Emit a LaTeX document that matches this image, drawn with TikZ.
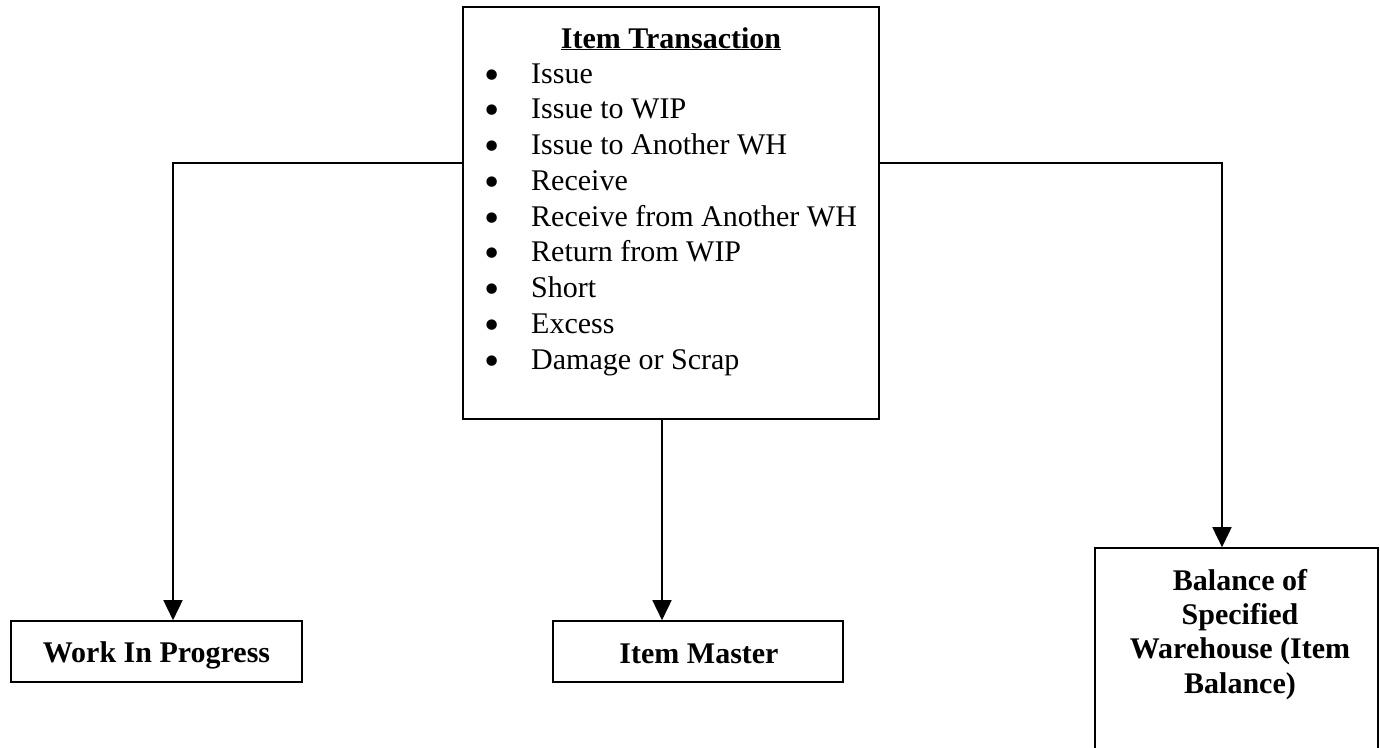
\documentclass[tikz,border=0pt]{standalone}
\usepackage{fontspec}
\setmainfont{Liberation Serif}
\usetikzlibrary{arrows.meta}
\begin{document}
\begin{tikzpicture}[x=1pt,y=-1pt,
  box/.style={draw, line width=1.6pt, inner sep=0pt},
  lbl/.style={font=\fontsize{30}{34.3}\selectfont\bfseries, inner sep=0pt},
  listtext/.style={font=\fontsize{30}{35.75}\selectfont, inner sep=0pt, align=left},
  arr/.style={line width=1.6pt, -{Triangle[length=20pt,width=19pt]}}]
\useasboundingbox (0,0) rectangle (1380,747);

% boxes
\node[box, minimum width=416pt, minimum height=412pt] (trans) at (671,213) {};
\node[box, minimum width=291pt, minimum height=61pt] (wip) at (156.5,651.5) {};
\node[box, minimum width=290pt, minimum height=61pt] (im) at (698,651.5) {};
\node[box, minimum width=283pt, minimum height=222pt] (bal) at (1236.5,659) {};

% texts (the base anchor of a multi-line node sits on its last line)
\node[lbl, anchor=base] (title) at (671,48) {\underline{Item Transaction}};
\newcommand\bul{\llap{\smash{\raisebox{-6pt}{\scalebox{1.45}{\textbullet}}}\hspace{31.4pt}}}
\node[listtext, anchor=base west] (list) at (531,369)
  {\bul Issue\\
   \bul Issue to WIP\\
   \bul Issue to Another WH\\
   \bul Receive\\
   \bul Receive from Another WH\\
   \bul Return from WIP\\
   \bul Short\\
   \bul Excess\\
   \bul Damage or Scrap};
\node[lbl, anchor=base] (wiptext) at (156.5,662) {Work In Progress};
\node[lbl, anchor=base] (imtext) at (699,663) {Item Master};
\node[lbl, anchor=base, align=center] (baltext) at (1240,693)
  {Balance of\\Specified\\Warehouse (Item\\Balance)};

% connectors
\coordinate (lvl) at (0,163);
\coordinate (lx) at (173,0);
\coordinate (mx) at (662,0);
\coordinate (rx) at (1222,0);
\draw[arr] (trans.west |- lvl) -| (lx |- wip.north);
\draw[arr] (trans.east |- lvl) -| (rx |- bal.north);
\draw[arr] (mx |- trans.south) -- (mx |- im.north);
\end{tikzpicture}
\end{document}
